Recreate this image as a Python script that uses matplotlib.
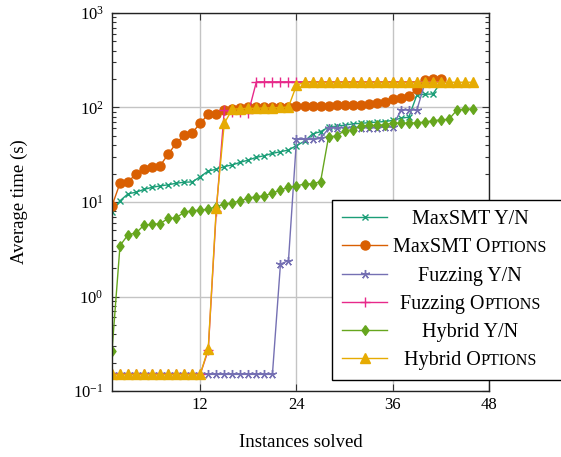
import matplotlib

matplotlib.use("Agg")
import matplotlib.pyplot as plt  # noqa: E402
import numpy as np  # noqa: E402
from matplotlib.lines import Line2D  # noqa: E402
from matplotlib.ticker import FixedLocator, LogLocator, NullFormatter, NullLocator  # noqa: E402

plt.rcParams["font.family"] = ["Liberation Serif", "DejaVu Serif"]
plt.rcParams["mathtext.fontset"] = "custom"
plt.rcParams["mathtext.rm"] = "Liberation Serif"
plt.rcParams["mathtext.it"] = "Liberation Serif:italic"

# average solve time (s) for the i-th solved instance
maxsmt_yn = [7.8, 10.3, 12.2, 12.7, 13.6, 14.3, 14.8, 15.2, 15.8, 16.2, 16.3,
             18.5, 21.3, 22.2, 23.7, 24.7, 26.3, 27.8, 29.7, 30.9, 32.7, 34.0,
             35.5, 39.5, 44.0, 52.5, 55.5, 62.0, 63.5, 65.0, 67.0, 68.0, 69.0,
             70.0, 71.0, 73.0, 77.0, 79.0, 135, 138, 139, 185]
maxsmt_opt = [9.1, 15.8, 16.3, 19.8, 22.2, 23.3, 24.2, 32.0, 41.8, 51.2, 54.0,
              68.0, 85.0, 86.0, 94.0, 97.0, 99.0, 100, 100, 101, 101, 102, 102,
              103, 103, 103, 104, 104, 105, 105, 106, 107, 108, 111, 115, 124,
              127, 133, 156, 195, 199, 200]
fuzz_yn = [0.15] * 21 + [2.2, 2.4, 46, 46, 46, 47, 60, 61, 61, 61, 61, 61, 61,
                         62, 62, 94, 94, 94, 180]
fuzz_opt = [0.15] * 12 + [0.27, 8.0, 93, 90, 89, 88] + [187] * 24
hybrid_yn = [0.265, 3.45, 4.5, 4.7, 5.7, 5.8, 5.9, 6.7, 6.8, 7.8, 8.1, 8.2, 8.4,
             8.9, 9.5, 9.8, 10.3, 11.0, 11.4, 11.6, 12.4, 13.4, 14.3, 14.8,
             15.5, 15.6, 16.4, 49, 50, 57, 58, 64, 64.5, 64.5, 66, 68, 69, 68,
             69, 70, 72.5, 74, 75, 94, 96, 96]
hybrid_opt = [0.15] * 12 + [0.28, 8.6, 68, 96, 97, 98, 98, 99, 99, 100, 101,
                            172] + [185] * 22

x_ticks = [12, 24, 36, 48]

# legend labels as (text, relative size) pieces: "Options" is set in small caps
labels = [
    [("MaxSMT Y/N", 1.0)],
    [("MaxSMT O", 1.0), ("PTIONS", 0.8)],
    [("Fuzzing Y/N", 1.0)],
    [("Fuzzing O", 1.0), ("PTIONS", 0.8)],
    [("Hybrid Y/N", 1.0)],
    [("Hybrid O", 1.0), ("PTIONS", 0.8)],
]

diamond = [(0, 1), (0.72, 0), (0, -1), (-0.72, 0), (0, 1)]
series = [
    (maxsmt_yn, "#1b9e77", "x", 5.0),
    (maxsmt_opt, "#d95f02", "o", 6.5),
    (fuzz_yn, "#7570b3", (5, 2, 0), 6.5),
    (fuzz_opt, "#e7298a", "+", 7.0),
    (hybrid_yn, "#66a61e", diamond, 7.0),
    (hybrid_opt, "#e6ab02", "^", 6.5),
]

fig = plt.figure(figsize=(5.61, 4.57), dpi=100)
ax = fig.add_axes([0.1996, 0.1444, 0.6721, 0.8272])

handles = []
for vals, color, marker, ms in series:
    xs = np.arange(1, len(vals) + 1)
    (ln,) = ax.plot(xs, vals, color=color, lw=1.0, marker=marker, ms=ms,
                    mec=color, mfc=color, mew=1.0)
    handles.append(ln)

ax.set_yscale("log")
ax.set_xlim(1, 48)
ax.set_ylim(0.1, 1000)
ax.xaxis.set_major_locator(FixedLocator(x_ticks))
ax.xaxis.set_minor_locator(NullLocator())
ax.yaxis.set_major_locator(LogLocator(base=10, numticks=10))
ax.yaxis.set_minor_locator(LogLocator(base=10, subs=np.arange(2, 10), numticks=10))
ax.yaxis.set_minor_formatter(NullFormatter())
ax.grid(True, which="major", color="#c4c4c4", lw=1.0)
ax.set_axisbelow(True)
ax.tick_params(which="both", direction="in", top=True, right=True,
               labelsize=12, width=0.8, color="#333333")
ax.tick_params(which="major", length=5)
ax.tick_params(which="minor", length=3)
ax.tick_params(axis="x", pad=4.5)
ax.tick_params(axis="y", pad=6)
for sp in ax.spines.values():
    sp.set_linewidth(1.0)
    sp.set_color("#222222")

ax.set_xlabel("Instances solved", fontsize=13.5)
ax.set_ylabel("Average time (s)", fontsize=13.5)
ax.xaxis.set_label_coords(0.5, -0.114)
ax.yaxis.set_label_coords(-0.223, 0.5)

# empty label slots; a wide handletextpad pushes the box past the figure edge
leg = ax.legend(handles, [""] * len(handles), loc="upper left",
                bbox_to_anchor=(0.584, 0.505), borderaxespad=0, fancybox=False,
                edgecolor="none", framealpha=1, fontsize=14.5,
                handlelength=2.24, handletextpad=22, borderpad=0.5,
                labelspacing=0.45, numpoints=1)

fig.canvas.draw()
renderer = fig.canvas.get_renderer()
fw, fh = fig.bbox.width, fig.bbox.height

# frame: left, top and bottom edges only, it runs off the right side
fb = leg.get_frame().get_window_extent(renderer)
fig.add_artist(Line2D([1.2, fb.x0 / fw, fb.x0 / fw, 1.2],
                      [fb.y1 / fh, fb.y1 / fh, fb.y0 / fh, fb.y0 / fh],
                      transform=fig.transFigure, color="black", lw=1.0,
                      solid_joinstyle="miter"))

# small-caps labels drawn by hand, centred in a column after the handles
prop = leg.get_texts()[0].get_fontproperties()
h0 = leg.legend_handles[0]
handle_end = h0.get_transform().transform((h0.get_xdata()[-1], 0))[0]

rows = []
for t, parts in zip(leg.get_texts(), labels):
    base = t.get_transform().transform(t.get_position())[1]
    widths, props = [], []
    for s, k in parts:
        p = prop.copy()
        p.set_size(prop.get_size_in_points() * k)
        w, _, _ = renderer.get_text_width_height_descent(s, p, ismath=False)
        widths.append(w)
        props.append(p)
    rows.append((base, parts, widths, props))

cx = handle_end + 6 + max(sum(r[2]) for r in rows) / 2
for base, parts, widths, props in rows:
    x = cx - sum(widths) / 2
    for (s, _), w, p in zip(parts, widths, props):
        fig.text(x / fw, base / fh, s, fontproperties=p, ha="left",
                 va="baseline", color="black")
        x += w

fig.savefig("out.png", dpi=100)
